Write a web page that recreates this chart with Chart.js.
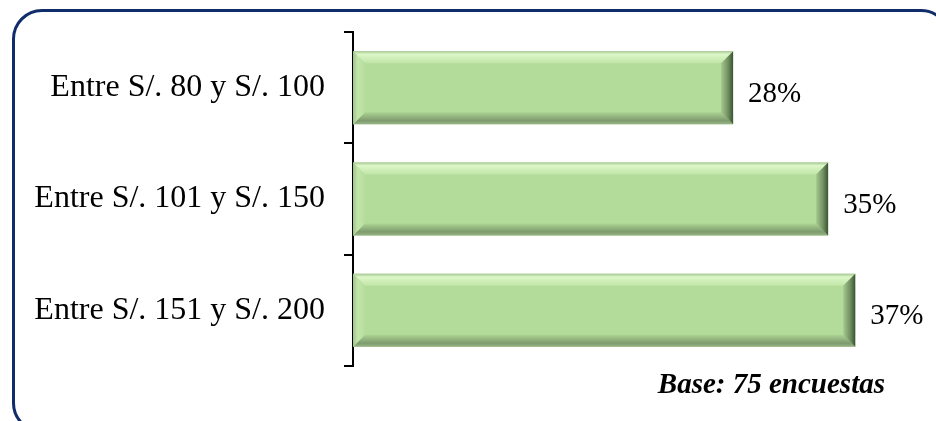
<!DOCTYPE html>
<html>
<head>
<meta charset="utf-8">
<script src="https://cdn.jsdelivr.net/npm/chart.js@4/dist/chart.umd.min.js"></script>
<style>
  html, body { margin: 0; padding: 0; background: #ffffff; overflow: hidden; }
  #wrap { position: relative; width: 936px; height: 421px; overflow: hidden; }
  #frame {
    position: absolute; left: 12px; top: 9px; width: 939px; height: 424px;
    border: 3px solid #112c6b; border-radius: 30px; box-sizing: border-box;
  }
  canvas { position: absolute; left: 0; top: 0; }
</style>
</head>
<body>
<div id="wrap">
  <div id="frame"></div>
  <canvas id="c" width="936" height="421"></canvas>
</div>
<script>
// Gasto mensual: rangos de precio y porcentaje de encuestados
const categories = ['Entre S/. 80 y S/. 100', 'Entre S/. 101 y S/. 150', 'Entre S/. 151 y S/. 200'];
const shares = [28, 35, 37];
const valueLabels = ['28%', '35%', '37%'];
const baseNote = 'Base: 75 encuestas';

const SERIF = '"Liberation Serif", "Times New Roman", serif';

// Bevelled look of each bar, drawn over the plain bar the library paints
const bevelBars = {
  id: 'bevelBars',
  afterDatasetsDraw(chart) {
    const c = chart.ctx;
    chart.getDatasetMeta(0).data.forEach(bar => {
      const p = bar.getProps(['x', 'y', 'base', 'height'], true);
      const L = Math.min(p.base, p.x), R = Math.max(p.base, p.x);
      const T = p.y - p.height / 2, B = p.y + p.height / 2;
      const b = 12;
      c.save();

      // top edge
      let g = c.createLinearGradient(0, T, 0, T + b);
      g.addColorStop(0, '#a6c694');
      g.addColorStop(0.25, '#dcf7c7');
      g.addColorStop(1, '#c0e5a8');
      c.fillStyle = g;
      c.beginPath();
      c.moveTo(L, T); c.lineTo(R, T); c.lineTo(R - b, T + b); c.lineTo(L + b, T + b);
      c.closePath(); c.fill();

      // bottom edge
      g = c.createLinearGradient(0, B - b, 0, B);
      g.addColorStop(0, '#acd393');
      g.addColorStop(0.7, '#7e9b6d');
      g.addColorStop(1, '#98b488');
      c.fillStyle = g;
      c.beginPath();
      c.moveTo(L, B); c.lineTo(R, B); c.lineTo(R - b, B - b); c.lineTo(L + b, B - b);
      c.closePath(); c.fill();

      // left edge
      g = c.createLinearGradient(L, 0, L + b, 0);
      g.addColorStop(0, '#9fc488');
      g.addColorStop(0.4, '#c3e6ab');
      g.addColorStop(1, '#b6dd9c');
      c.fillStyle = g;
      c.beginPath();
      c.moveTo(L, T); c.lineTo(L + b, T + b); c.lineTo(L + b, B - b); c.lineTo(L, B);
      c.closePath(); c.fill();

      // right edge
      g = c.createLinearGradient(R - b, 0, R, 0);
      g.addColorStop(0, '#a5c990');
      g.addColorStop(0.6, '#6f8e5f');
      g.addColorStop(1, '#3c5234');
      c.fillStyle = g;
      c.beginPath();
      c.moveTo(R, T); c.lineTo(R - b, T + b); c.lineTo(R - b, B - b); c.lineTo(R, B);
      c.closePath(); c.fill();

      c.restore();
    });
  }
};

// Percentage next to each bar and the sample note
const valueText = {
  id: 'valueText',
  afterDraw(chart) {
    const c = chart.ctx;
    c.save();
    c.fillStyle = '#000';
    c.font = '29px ' + SERIF;
    c.textAlign = 'left';
    c.textBaseline = 'alphabetic';
    chart.getDatasetMeta(0).data.forEach((bar, i) => {
      const p = bar.getProps(['x', 'y'], true);
      c.fillText(valueLabels[i], p.x + 15, p.y + 14);
    });
    c.font = 'italic bold 29px ' + SERIF;
    c.textAlign = 'right';
    c.fillText(baseNote, 885, 393);
    c.restore();
  }
};

new Chart(document.getElementById('c'), {
  type: 'bar',
  data: {
    labels: categories,
    datasets: [{
      data: shares,
      backgroundColor: '#b3db99',
      borderWidth: 0,
      barPercentage: 0.655,
      categoryPercentage: 1
    }]
  },
  options: {
    indexAxis: 'y',
    responsive: false,
    animation: false,
    devicePixelRatio: 1,
    layout: { padding: { left: 0, right: 40, top: 32, bottom: 55 } },
    plugins: { legend: { display: false }, tooltip: { enabled: false } },
    scales: {
      x: { display: false, min: 0, max: 40 },
      y: {
        afterFit(scale) {
          scale.width = 353;
          scale.paddingTop = 0;
          scale.paddingBottom = 0;
        },
        grid: {
          display: true, drawOnChartArea: false, drawTicks: true,
          tickLength: 9, color: '#000', lineWidth: 2, offset: true
        },
        border: { display: true, color: '#000', width: 2 },
        ticks: { color: '#000', font: { family: SERIF, size: 32 }, padding: 19 }
      }
    }
  },
  plugins: [bevelBars, valueText]
});
</script>
</body>
</html>
